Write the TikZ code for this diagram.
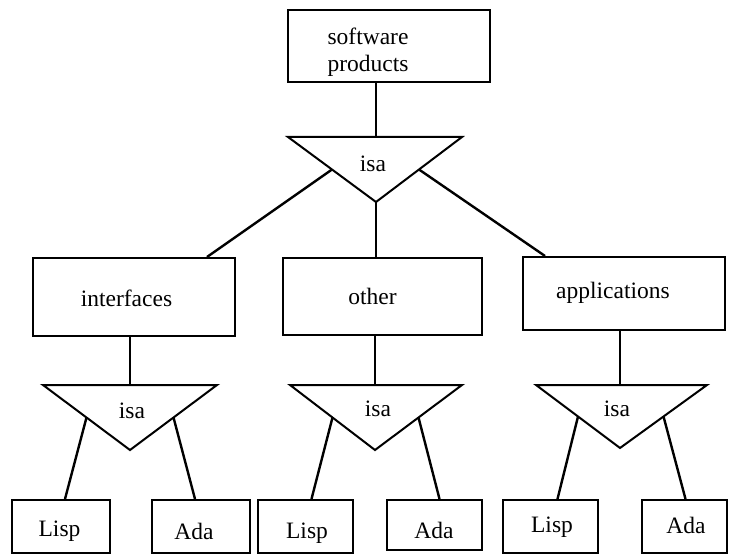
\documentclass[tikz,border=0pt]{standalone}
\usepackage{fontspec}
\setmainfont{Liberation Serif}
\usetikzlibrary{calc}
\begin{document}
\begin{tikzpicture}[x=1pt,y=-1pt,
  box/.style={draw,line width=2pt,inner sep=0pt,rectangle},
  lbl/.style={inner sep=0pt,font=\fontsize{23.5}{27}\selectfont},
  tri/.style={draw,line width=2pt,line join=miter},
  conn/.style={line width=2.4pt}]
\useasboundingbox (0,0) rectangle (730,556);
% boxes
\node[box,minimum width=202pt,minimum height=72pt] (sw) at (389,46) {};
\node[box,minimum width=202pt,minimum height=78pt] (if) at (134,297) {};
\node[box,minimum width=199pt,minimum height=77pt] (ot) at (382.5,296.5) {};
\node[box,minimum width=202pt,minimum height=73pt] (ap) at (624,293.5) {};
\node[box,minimum width=98pt,minimum height=53pt] (l1) at (61,526.5) {};
\node[box,minimum width=98pt,minimum height=53pt] (a1) at (201,526.5) {};
\node[box,minimum width=95pt,minimum height=53pt] (l2) at (305.5,526.5) {};
\node[box,minimum width=95pt,minimum height=50pt] (a2) at (434.5,525) {};
\node[box,minimum width=95pt,minimum height=53pt] (l3) at (550.5,526.5) {};
\node[box,minimum width=85pt,minimum height=53pt] (a3) at (684.5,526.5) {};
% texts
\node[lbl,align=left] (swt) at (368,52) {software\\products};
\node[lbl] (ift) at (126.5,298) {interfaces};
\node[lbl] (ott) at (372.5,296) {other};
\node[lbl] (apt) at (613,293) {applications};
\node[lbl] (l1t) at (59.5,531) {Lisp};
\node[lbl] (a1t) at (194,531) {Ada};
\node[lbl] (l2t) at (307,533) {Lisp};
\node[lbl] (a2t) at (434,530) {Ada};
\node[lbl] (l3t) at (552,527) {Lisp};
\node[lbl] (a3t) at (686,525) {Ada};
% triangles
\coordinate (t0l) at (288,137); \coordinate (t0r) at (462,137); \coordinate (t0a) at (376,202); \coordinate (t0s) at (376,137);
\coordinate (t1l) at (43,385); \coordinate (t1r) at (217,385); \coordinate (t1a) at (130,450); \coordinate (t1s) at (130,385);
\coordinate (t2l) at (290,385); \coordinate (t2r) at (462,385); \coordinate (t2a) at (375,450); \coordinate (t2s) at (375,385);
\coordinate (t3l) at (536,385); \coordinate (t3r) at (707,385); \coordinate (t3a) at (620,448); \coordinate (t3s) at (620,385);
\draw[tri] (t0l) -- (t0r) -- (t0a) -- cycle;
\draw[tri] (t1l) -- (t1r) -- (t1a) -- cycle;
\draw[tri] (t2l) -- (t2r) -- (t2a) -- cycle;
\draw[tri] (t3l) -- (t3r) -- (t3a) -- cycle;
\node[lbl] (i0) at (373,164) {isa};
\node[lbl] (i1) at (132,411) {isa};
\node[lbl] (i2) at (378,409) {isa};
\node[lbl] (i3) at (617,409) {isa};
% leg points
\coordinate (t0lm) at ($(t0l)!0.5!(t0a)$); \coordinate (t0rm) at ($(t0r)!0.5!(t0a)$);
\coordinate (t1lm) at ($(t1l)!0.5!(t1a)$); \coordinate (t1rm) at ($(t1r)!0.5!(t1a)$);
\coordinate (t2lm) at ($(t2l)!0.5!(t2a)$); \coordinate (t2rm) at ($(t2r)!0.5!(t2a)$);
\coordinate (t3lm) at ($(t3l)!0.5!(t3a)$); \coordinate (t3rm) at ($(t3r)!0.5!(t3a)$);
% connectors
\draw[conn] (t0s |- sw.south) -- (t0s);
\draw[conn] (t0lm) -- ([xshift=73pt]if.north);
\draw[conn] (t0a) -- (t0a |- ot.north);
\draw[conn] (t0rm) -- ([xshift=-79pt]ap.north);
\draw[conn] (t1s |- if.south) -- (t1s);
\draw[conn] (t2s |- ot.south) -- (t2s);
\draw[conn] (t3s |- ap.south) -- (t3s);
\draw[conn] (t1lm) -- ([xshift=4pt]l1.north);
\draw[conn] (t1rm) -- ([xshift=-6pt]a1.north);
\draw[conn] (t2lm) -- ([xshift=6pt]l2.north);
\draw[conn] (t2rm) -- ([xshift=5pt]a2.north);
\draw[conn] (t3lm) -- ([xshift=7pt]l3.north);
\draw[conn] (t3rm) -- ([xshift=1pt]a3.north);
\end{tikzpicture}
\end{document}
